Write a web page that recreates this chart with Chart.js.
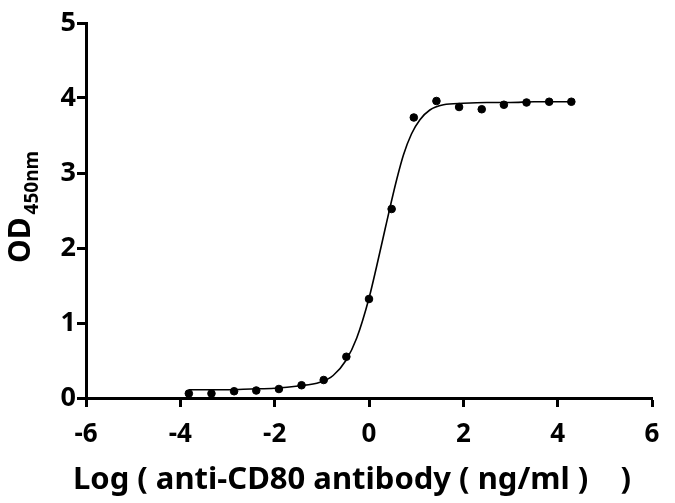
<!DOCTYPE html>
<html lang="en">
<head>
    <meta charset="UTF-8">
    <script src="https://cdn.jsdelivr.net/npm/chart.js"></script>
    <title>OD450 curve</title>
    <style>
      html, body { margin: 0; padding: 0; background: #fff; }
      #wrap { width: 675px; height: 503px; }
    </style>
</head>
<body>
    <div id="wrap"><canvas id="odChart" width="675" height="503"></canvas></div>

    <script>
      // measured points (log concentration, OD)
      const logConc = [-3.82, -3.34, -2.86, -2.39, -1.91, -1.43, -0.96, -0.48, 0.0, 0.48, 0.95, 1.43, 1.91, 2.39, 2.86, 3.34, 3.82, 4.29];
      const odValues = [0.06, 0.06, 0.09, 0.10, 0.12, 0.17, 0.24, 0.55, 1.32, 2.52, 3.74, 3.96, 3.88, 3.85, 3.91, 3.94, 3.95, 3.95];

      // fitted curve
      const fitX = [-3.82, -3, -2.5, -2, -1.5, -1.04, -0.76, -0.49, -0.26, 0, 0.16, 0.34, 0.46, 0.59, 0.73, 0.9, 1.08, 1.29, 1.58, 2, 2.5, 3, 3.5, 4.29];
      const fitY = [0.11, 0.11, 0.12, 0.13, 0.16, 0.21, 0.30, 0.50, 0.80, 1.33, 1.75, 2.25, 2.58, 2.92, 3.24, 3.52, 3.71, 3.84, 3.91, 3.93, 3.94, 3.94, 3.95, 3.95];

      const xTicks = [-6, -4, -2, 0, 2, 4, 6];
      const yTicks = [0, 1, 2, 3, 4, 5];

      const FONT = '"Noto Sans", "Open Sans", sans-serif';

      // axis titles (y title has a subscript)
      const titlePlugin = {
        id: 'titles',
        afterDraw(chart) {
          const ctx = chart.ctx;
          ctx.save();
          ctx.fillStyle = '#000';
          ctx.textBaseline = 'alphabetic';
          ctx.textAlign = 'center';
          ctx.font = 'bold 31px ' + FONT;
          ctx.fillText('Log ( anti-CD80 antibody ( ng/ml )    )', 352, 489);

          ctx.translate(30, 207);
          ctx.rotate(-Math.PI / 2);
          ctx.textAlign = 'left';
          ctx.font = 'bold 30px ' + FONT;
          const w = ctx.measureText('OD').width;
          ctx.font = 'bold 19px ' + FONT;
          const w2 = ctx.measureText('450nm').width;
          const start = -(w + w2 + 3) / 2;
          ctx.font = 'bold 30px ' + FONT;
          ctx.fillText('OD', start, 0);
          ctx.font = 'bold 19px ' + FONT;
          ctx.fillText('450nm', start + w + 3, 8);
          ctx.restore();
        }
      };

      const ctx = document.getElementById('odChart').getContext('2d');
      new Chart(ctx, {
        type: 'scatter',
        data: {
          datasets: [{
            label: 'fit',
            type: 'line',
            data: fitX.map((x, i) => ({ x: x, y: fitY[i] })),
            borderColor: '#000',
            borderWidth: 1.6,
            pointRadius: 0,
            cubicInterpolationMode: 'monotone',
            fill: false
          }, {
            label: 'OD',
            data: logConc.map((x, i) => ({ x: x, y: odValues[i] })),
            backgroundColor: '#000',
            borderColor: '#000',
            pointRadius: 3.8
          }]
        },
        options: {
          responsive: false,
          animation: false,
          layout: { padding: { top: 23, right: 23, left: 0, bottom: 0 } },
          plugins: { legend: { display: false }, tooltip: { enabled: false } },
          scales: {
            x: {
              type: 'linear',
              min: -6,
              max: 6,
              afterBuildTicks: (scale) => { scale.ticks = xTicks.map(v => ({ value: v })); },
              afterFit: (scale) => { scale.height = 105; },
              ticks: { color: '#000', font: { size: 26, weight: 'bold', family: FONT }, padding: 12 },
              grid: { drawOnChartArea: false, drawTicks: true, tickLength: 9, tickWidth: 3, tickColor: '#000' },
              border: { display: true, color: '#000', width: 3 }
            },
            y: {
              min: 0,
              max: 5,
              afterBuildTicks: (scale) => { scale.ticks = yTicks.map(v => ({ value: v })); },
              afterFit: (scale) => { scale.width = 86; },
              ticks: { color: '#000', font: { size: 27, weight: 'bold', family: FONT }, padding: 1 },
              grid: { drawOnChartArea: false, drawTicks: true, tickLength: 9, tickWidth: 3, tickColor: '#000' },
              border: { display: true, color: '#000', width: 3 }
            }
          }
        },
        plugins: [titlePlugin]
      });
    </script>
</body>
</html>
